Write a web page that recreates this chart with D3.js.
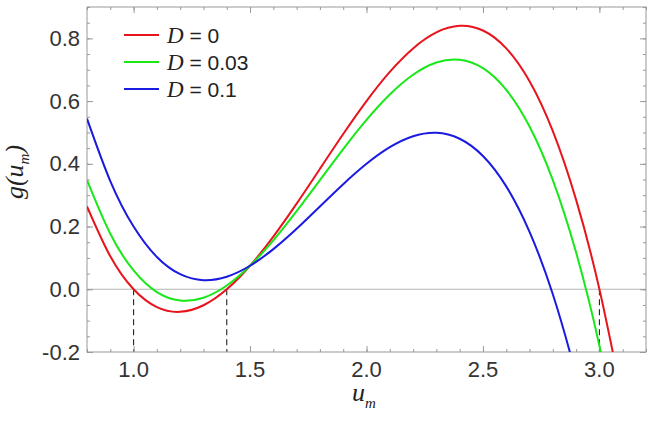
<!doctype html>
<html lang="en">
<head>
<meta charset="UTF-8" />
<title>g(u_m)</title>
<script src="https://d3js.org/d3.v7.min.js"></script>
<style>
  body { margin: 0; background: #fff; }
  svg { display: block; }
</style>
</head>
<body>
<div id="chart"></div>
<script>
// values
var uValues = [0.8, 0.9, 1.0, 1.1, 1.2, 1.3, 1.4, 1.5, 1.6, 1.7, 1.8, 1.9, 2.0,
               2.1, 2.2, 2.3, 2.4, 2.5, 2.6, 2.7, 2.8, 2.9, 3.0, 3.1];
var gD0 = [0.264, 0.105, 0.0, -0.057, -0.072, -0.051, 0.0, 0.075, 0.168, 0.273, 0.384, 0.495, 0.600,
           0.693, 0.768, 0.819, 0.840, 0.825, 0.768, 0.663, 0.504, 0.285, 0.0, -0.357];
var gD003 = [0.348, 0.177, 0.060, -0.009, -0.036, -0.027, 0.012, 0.075, 0.156, 0.249, 0.348, 0.447, 0.540,
             0.621, 0.684, 0.723, 0.732, 0.705, 0.636, 0.519, 0.348, 0.117, -0.180, -0.549];
var gD01 = [0.544, 0.345, 0.200, 0.103, 0.048, 0.029, 0.040, 0.075, 0.128, 0.193, 0.264, 0.335, 0.400,
            0.453, 0.488, 0.499, 0.480, 0.425, 0.328, 0.183, -0.016, -0.275, -0.580, -0.917];
var seriesNames = ['0', '0.03', '0.1'];
var seriesColors = ['#e8141c', '#18e818', '#1a1ae0'];
var rootValues = [1.0, 1.4, 3.0];
var xTicks = [1.0, 1.5, 2.0, 2.5, 3.0];
var yTicks = [-0.2, 0.0, 0.2, 0.4, 0.6, 0.8];

var W = 653, H = 421;
var pLeft = 87, pTop = 7, pRight = 646, pBottom = 352;

var svg = d3.select('#chart').append('svg')
    .attr('width', W)
    .attr('height', H);

var x = d3.scaleLinear().domain([0.8, 3.2]).range([pLeft, pRight]);
var y = d3.scaleLinear().domain([-0.2, 0.9]).range([pBottom, pTop]);

var xMinor = d3.range(8, 33).map(function (d) { return d / 10; });
var yMinor = d3.range(-4, 19).map(function (d) { return d / 20; });

svg.append('defs').append('clipPath')
    .attr('id', 'plotclip')
    .append('rect')
    .attr('x', pLeft).attr('y', pTop)
    .attr('width', pRight - pLeft).attr('height', pBottom - pTop);

// zero line
svg.append('line')
    .attr('x1', pLeft).attr('x2', pRight)
    .attr('y1', y(0)).attr('y2', y(0))
    .attr('stroke', '#b4b4b4')
    .attr('stroke-width', 1.2);

// dashed markers at the roots
svg.selectAll('.root')
    .data(rootValues)
    .enter()
    .append('line')
    .attr('class', 'root')
    .attr('x1', function (d) { return x(d); })
    .attr('x2', function (d) { return x(d); })
    .attr('y1', y(0))
    .attr('y2', y(-0.2))
    .attr('stroke', '#222')
    .attr('stroke-width', 1.1)
    .attr('stroke-dasharray', '6,4');

// axes: ticks inward on all four sides
function tickAxis(axisFn, scale, values, size) {
    return axisFn(scale).tickValues(values).tickSize(-size).tickFormat('');
}
function drawFrameAxis(g) {
    g.select('.domain').remove();
    g.selectAll('line').attr('stroke', '#999');
}

var bx = svg.append('g').attr('transform', 'translate(0,' + pBottom + ')');
bx.append('g').call(tickAxis(d3.axisBottom, x, xMinor, 3)).call(drawFrameAxis);
bx.append('g').call(tickAxis(d3.axisBottom, x, xTicks, 6)).call(drawFrameAxis);
var tx = svg.append('g').attr('transform', 'translate(0,' + pTop + ')');
tx.append('g').call(tickAxis(d3.axisTop, x, xMinor, 3)).call(drawFrameAxis);
tx.append('g').call(tickAxis(d3.axisTop, x, xTicks, 6)).call(drawFrameAxis);
var ly = svg.append('g').attr('transform', 'translate(' + pLeft + ',0)');
ly.append('g').call(tickAxis(d3.axisLeft, y, yMinor, 3)).call(drawFrameAxis);
ly.append('g').call(tickAxis(d3.axisLeft, y, yTicks, 6)).call(drawFrameAxis);
var ry = svg.append('g').attr('transform', 'translate(' + pRight + ',0)');
ry.append('g').call(tickAxis(d3.axisRight, y, yMinor, 3)).call(drawFrameAxis);
ry.append('g').call(tickAxis(d3.axisRight, y, yTicks, 6)).call(drawFrameAxis);

svg.append('rect')
    .attr('x', pLeft).attr('y', pTop)
    .attr('width', pRight - pLeft).attr('height', pBottom - pTop)
    .attr('fill', 'none')
    .attr('stroke', '#999')
    .attr('stroke-width', 1);

// tick labels
svg.selectAll('.xlab')
    .data(xTicks)
    .enter()
    .append('text')
    .attr('class', 'xlab')
    .attr('x', function (d) { return x(d); })
    .attr('y', 377)
    .attr('text-anchor', 'middle')
    .attr('font-family', 'Liberation Sans, Arial, sans-serif')
    .attr('font-size', '22px')
    .attr('fill', '#333')
    .text(function (d) { return d.toFixed(1); });

svg.selectAll('.ylab')
    .data(yTicks)
    .enter()
    .append('text')
    .attr('class', 'ylab')
    .attr('x', 80)
    .attr('y', function (d) { return y(d) + 7.5; })
    .attr('text-anchor', 'end')
    .attr('font-family', 'Liberation Sans, Arial, sans-serif')
    .attr('font-size', '22px')
    .attr('fill', '#333')
    .text(function (d) { return d.toFixed(1); });

// curves
var allSeries = [gD0, gD003, gD01];
var line = d3.line()
    .x(function (d, i) { return x(uValues[i]); })
    .y(function (d) { return y(d); })
    .curve(d3.curveNatural);

svg.append('g')
    .attr('clip-path', 'url(#plotclip)')
    .selectAll('path')
    .data(allSeries)
    .enter()
    .append('path')
    .attr('fill', 'none')
    .attr('stroke', function (d, i) { return seriesColors[i]; })
    .attr('stroke-width', 2)
    .attr('d', line);

// legend
var legend = svg.append('g').attr('transform', 'translate(124,35)');
seriesNames.forEach(function (name, i) {
    var row = legend.append('g').attr('transform', 'translate(0,' + (i * 27) + ')');
    row.append('line')
        .attr('x1', 0).attr('x2', 35)
        .attr('y1', 0).attr('y2', 0)
        .attr('stroke', seriesColors[i])
        .attr('stroke-width', 2);
    var t = row.append('text')
        .attr('x', 43)
        .attr('y', 7.5)
        .attr('font-family', 'Liberation Sans, Arial, sans-serif')
        .attr('font-size', '21px')
        .attr('fill', '#222');
    t.append('tspan')
        .attr('font-family', 'Liberation Serif, Times New Roman, serif')
        .attr('font-style', 'italic')
        .attr('font-size', '23px')
        .text('D');
    t.append('tspan').text(' = ' + name);
});

// axis titles
var xt = svg.append('text')
    .attr('x', 352)
    .attr('y', 401)
    .attr('font-family', 'Liberation Serif, Times New Roman, serif')
    .attr('font-style', 'italic')
    .attr('font-size', '26px')
    .attr('fill', '#222');
xt.append('tspan').text('u');
xt.append('tspan').attr('font-size', '15px').attr('dy', 7).text('m');

var yt = svg.append('text')
    .attr('transform', 'translate(23,172) rotate(-90)')
    .attr('text-anchor', 'middle')
    .attr('font-family', 'Liberation Serif, Times New Roman, serif')
    .attr('font-style', 'italic')
    .attr('font-size', '26px')
    .attr('fill', '#222');
yt.append('tspan').text('g(u');
yt.append('tspan').attr('font-size', '15px').attr('dy', 6).text('m');
yt.append('tspan').attr('dy', -6).text(')');
</script>
</body>
</html>
